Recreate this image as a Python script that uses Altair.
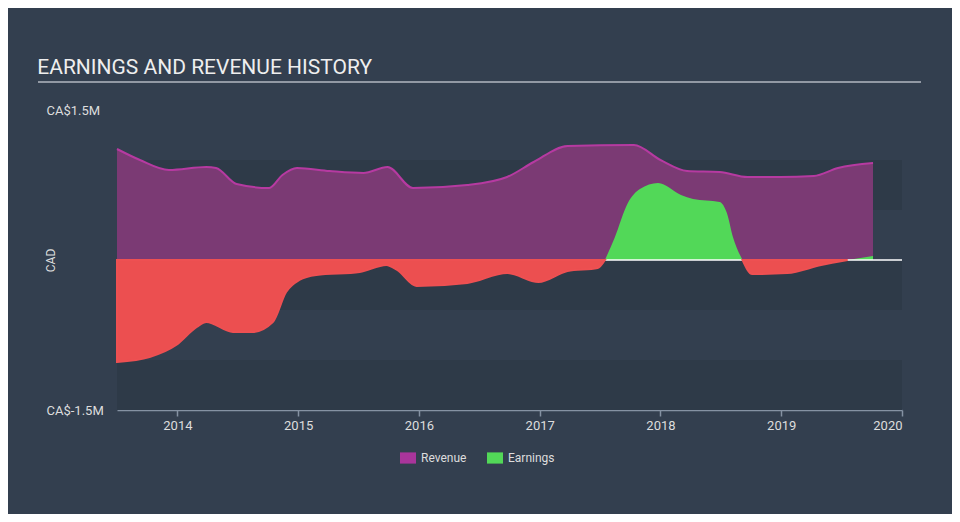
import altair as alt
import pandas as pd

# ---- data (values in CA$ millions) ----
rev_year = [2013.5, 2013.69, 2013.93, 2014.24, 2014.32, 2014.49, 2014.76, 2014.87, 2014.99,
            2015.26, 2015.54, 2015.74, 2015.95, 2016.4, 2016.73, 2016.95, 2017.23, 2017.78,
            2018.0, 2018.22, 2018.49, 2018.72, 2018.99, 2019.27, 2019.47, 2019.76]
rev_val = [1.11, 1.0, 0.90, 0.93, 0.92, 0.76, 0.72, 0.85, 0.92,
           0.89, 0.87, 0.93, 0.72, 0.75, 0.83, 0.98, 1.14, 1.15,
           1.0, 0.89, 0.88, 0.83, 0.83, 0.84, 0.92, 0.97]

earn_year = [2013.5, 2013.77, 2013.99, 2014.16, 2014.24, 2014.46, 2014.62, 2014.79, 2014.9,
             2015.01, 2015.15, 2015.51, 2015.73, 2015.82, 2015.98, 2016.4, 2016.73, 2016.99,
             2017.23, 2017.48, 2017.54, 2017.62, 2017.73, 2017.83, 2017.98, 2018.17, 2018.27,
             2018.49, 2018.55, 2018.6, 2018.68, 2018.76, 2019.05, 2019.33, 2019.55, 2019.76]
earn_val = [-1.02, -0.97, -0.85, -0.67, -0.62, -0.72, -0.72, -0.62, -0.32,
            -0.20, -0.15, -0.12, -0.05, -0.10, -0.26, -0.23, -0.13, -0.22,
            -0.11, -0.08, 0.0, 0.22, 0.57, 0.71, 0.77, 0.65, 0.61,
            0.58, 0.47, 0.23, 0.0, -0.14, -0.13, -0.05, 0.0, 0.04]

band_lo = [0.5, -0.5, -1.5]
band_hi = [1.0, 0.0, -1.0]

year_ticks = [2014, 2015, 2016, 2017, 2018, 2019, 2020]
y_ticks = [-1.5, 1.5]
x_domain = [2013.5, 2020]
y_domain = [-1.5, 1.5]

series_names = ["Revenue", "Earnings"]
series_colors = ["#a9359b", "#52d858"]

# ---- build tables ----
rev_df = pd.DataFrame({"year": rev_year, "val": rev_val})
band_df = pd.DataFrame({"lo": band_lo, "hi": band_hi})

earn_rows = []
seg = 0
cur = None
zero_pt = None
for yr, v in zip(earn_year, earn_val):
    s = (v > 0) - (v < 0)
    if s == 0:
        if cur is not None:
            earn_rows.append({"year": yr, "val": v, "seg": seg, "sign": cur})
        seg += 1
        cur = None
        zero_pt = yr
        continue
    if cur is None:
        cur = s
        if zero_pt is not None:
            earn_rows.append({"year": zero_pt, "val": 0.0, "seg": seg, "sign": s})
    earn_rows.append({"year": yr, "val": v, "seg": seg, "sign": s})
earn_df = pd.DataFrame(earn_rows)
legend_df = pd.DataFrame({"series": series_names})

FONT = "Roboto"
x_scale = alt.Scale(domain=x_domain, nice=False, zero=False)
y_scale = alt.Scale(domain=y_domain, nice=False, zero=False)

x_axis = alt.Axis(values=year_ticks, format="d", title=None, grid=False,
                  domainColor="#8592a3", domainWidth=1.5, tickColor="#8592a3",
                  tickWidth=1.5, tickSize=6, labelColor="#dddddd", labelFontSize=13,
                  labelFont=FONT, labelPadding=3, labelFlush=True)
y_axis = alt.Axis(values=y_ticks, labelExpr="'CA$' + datum.value + 'M'",
                  labelAlign="left", labelBaseline="middle", labelPadding=71,
                  ticks=False, tickSize=0, domain=False, grid=False,
                  labelColor="#dddddd", labelFontSize=13, labelFont=FONT,
                  labelFlush=False, labelOverlap=False,
                  title="CAD", titleAngle=270, titleX=-67, titleY=150,
                  titleAlign="center", titleBaseline="middle",
                  titleColor="#dddddd", titleFontSize=12, titleFontWeight="normal",
                  titleFont=FONT)

X = alt.X("year:Q", scale=x_scale, axis=x_axis)
Y = alt.Y("val:Q", scale=y_scale, axis=y_axis)

bands = alt.Chart(band_df).mark_rect(color="#2e3a48").encode(
    x=alt.datum(x_domain[0], scale=x_scale, axis=x_axis, type="quantitative"),
    x2=alt.datum(x_domain[1]),
    y=alt.Y("lo:Q", scale=y_scale, axis=y_axis),
    y2="hi:Q",
)

rev_area = alt.Chart(rev_df).mark_area(color="#7b3a74", interpolate="monotone").encode(
    x=X, y=Y, y2=alt.datum(0)
)
rev_line = alt.Chart(rev_df).mark_line(color="#b63aa1", strokeWidth=2,
                                       interpolate="monotone").encode(x=X, y=Y)

green = alt.Chart(earn_df).transform_filter("datum.sign > 0").mark_area(
    color="#52d858", interpolate="monotone").encode(
    x=X, y=Y, y2=alt.datum(0), detail="seg:N")

zero_rule = alt.Chart(alt.Data(values=[{}])).mark_rule(color="#ffffff", strokeWidth=1.5).encode(
    x=alt.datum(x_domain[0], scale=x_scale, axis=x_axis, type="quantitative"),
    x2=alt.datum(x_domain[1]),
    y=alt.datum(0, scale=y_scale, axis=y_axis, type="quantitative"),
)

red = alt.Chart(earn_df).transform_filter("datum.sign < 0").mark_area(
    color="#ec4f50", stroke="#ee5052", strokeWidth=2, interpolate="monotone").encode(
    x=X, y=Y, y2=alt.datum(0), detail="seg:N")

underline = alt.Chart(alt.Data(values=[{}])).mark_rule(color="#b3b8c0", strokeWidth=1.5).encode(
    x=alt.value(-79), x2=alt.value(804), y=alt.value(-28))

legend_layer = alt.Chart(legend_df).mark_square(opacity=0, size=1).encode(
    color=alt.Color("series:N",
                    scale=alt.Scale(domain=series_names, range=series_colors),
                    legend=alt.Legend(orient="none", legendX=283, legendY=340,
                                      direction="horizontal", title=None,
                                      symbolType="M-1,-0.7H1V0.7H-1Z", symbolSize=256,
                                      symbolOpacity=1, symbolStrokeWidth=0,
                                      labelColor="#dddddd", labelFontSize=12,
                                      labelFont=FONT, labelOffset=5,
                                      columnPadding=20, padding=0))
)

chart = alt.layer(
    bands, rev_area, rev_line, green, zero_rule, red, underline, legend_layer
).properties(
    width=785, height=300,
    autosize=alt.AutoSizeParams(type="none"),
    padding={"left": 109, "top": 102, "right": 50, "bottom": 104},
    title=alt.TitleParams("EARNINGS AND REVENUE HISTORY", anchor="start", frame="bounds",
                          offset=3, fontSize=21, font=FONT, fontWeight="normal",
                          color="#eeeeee"),
).configure(background="#333f4f", font=FONT).configure_view(stroke=None)

chart.save("out.html", embed_options={"renderer": "svg", "actions": False})
